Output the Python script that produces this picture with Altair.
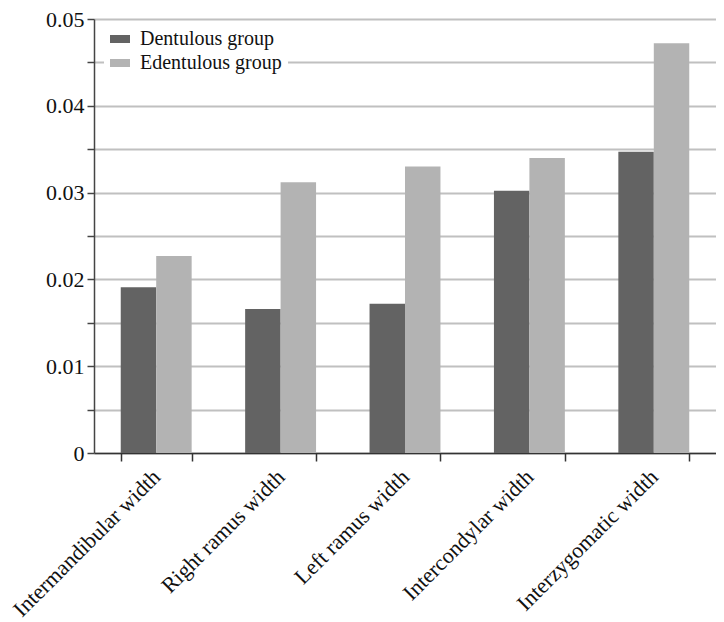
import altair as alt
import pandas as pd

categories = ["Intermandibular width", "Right ramus width", "Left ramus width",
              "Intercondylar width", "Interzygomatic width"]
groups = ["Dentulous group", "Edentulous group"]
dentulous = [0.0191, 0.0166, 0.0172, 0.0302, 0.0347]
edentulous = [0.0227, 0.0312, 0.0330, 0.0340, 0.0472]
y_ticks = [0, 0.005, 0.01, 0.015, 0.02, 0.025, 0.03, 0.035, 0.04, 0.045, 0.05]

rows = []
for c, d, e in zip(categories, dentulous, edentulous):
    rows.append({"measure": c, "group": groups[0], "value": d})
    rows.append({"measure": c, "group": groups[1], "value": e})
df = pd.DataFrame(rows)

FONT = "Liberation Serif"

chart = alt.Chart(df).mark_bar().encode(
    x=alt.X("measure:N", sort=categories, title=None,
            scale=alt.Scale(paddingInner=0.43, paddingOuter=0.215),
            axis=alt.Axis(tickBand="extent", labelAngle=-45, labelAlign="right",
                          labelBaseline="middle", labelFontSize=22, labelFont=FONT,
                          labelColor="#111", labelPadding=12, labelLimit=0, tickSize=8,
                          tickColor="#333", tickWidth=1.5, domainColor="#333",
                          domainWidth=1.5, grid=False)),
    xOffset=alt.XOffset("group:N", sort=groups, scale=alt.Scale(paddingInner=0, paddingOuter=0)),
    y=alt.Y("value:Q", title=None, scale=alt.Scale(domain=[0, 0.05], nice=False),
            axis=alt.Axis(values=y_ticks, format="~g",
                          labelExpr="round(datum.value*1000) % 10 == 0 ? datum.label : ''",
                          labelFontSize=22, labelFont=FONT, labelColor="#111",
                          labelPadding=3, tickSize=7, tickColor="#444", tickWidth=1.5,
                          domainColor="#444", domainWidth=1.5, grid=True,
                          gridColor="#c0c0c0", gridWidth=1.8)),
    color=alt.Color("group:N", sort=groups,
                    scale=alt.Scale(domain=groups, range=["#636363", "#b3b3b3"]),
                    legend=alt.Legend(title=None, orient="none", legendX=10, legendY=4,
                                      fillColor="white", padding=6,
                                      symbolType="M-1,-0.4H1V0.4H-1Z", symbolSize=400,
                                      symbolStrokeWidth=0, labelFont=FONT, labelFontSize=20,
                                      labelColor="#111", labelOffset=10, rowPadding=4)),
).properties(
    width=622, height=434, padding={"left": 0, "top": 0, "right": 0, "bottom": 0}
).configure_view(stroke=None)

chart.save("out.html", embed_options={"renderer": "svg", "actions": False})
